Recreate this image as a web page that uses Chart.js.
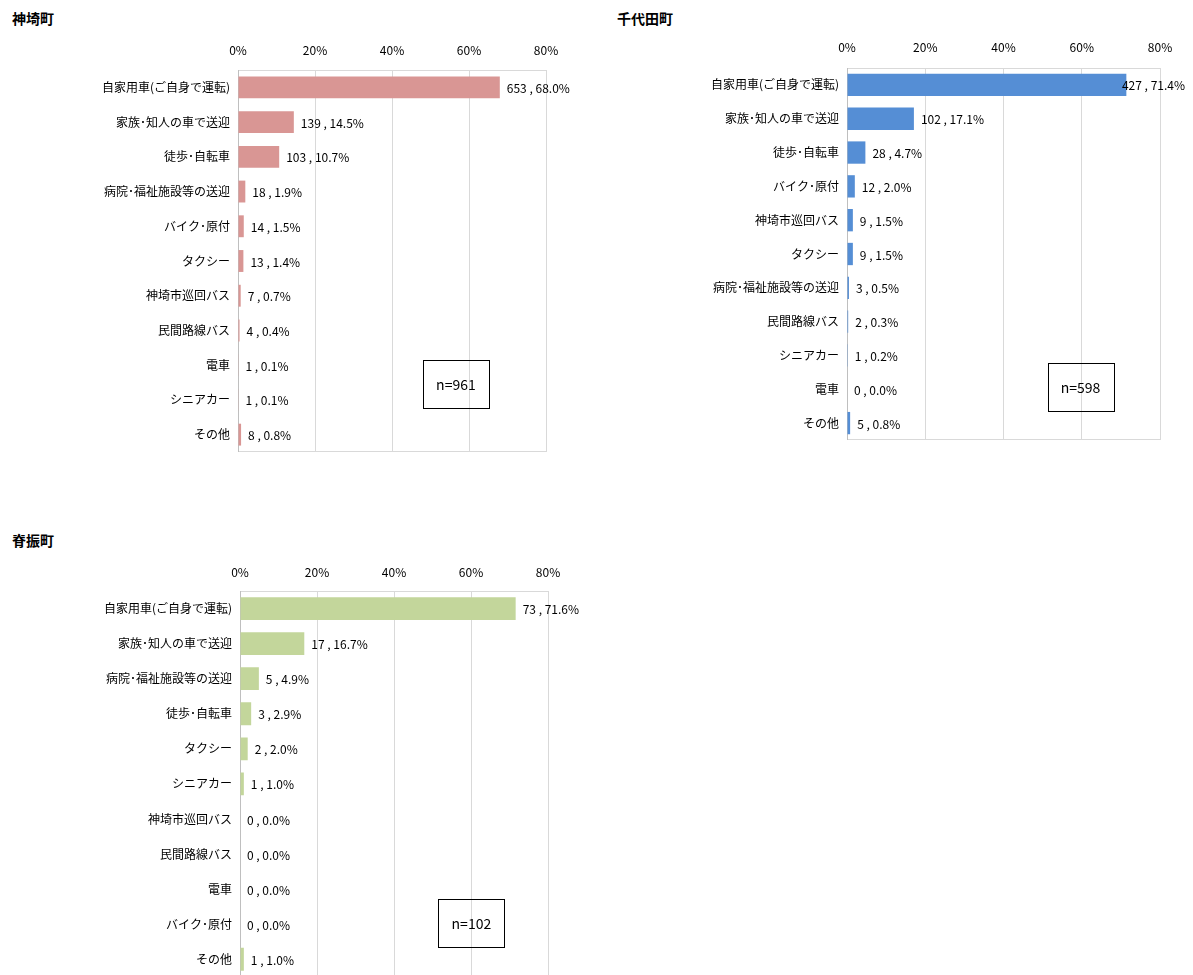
<!DOCTYPE html>
<html><head><meta charset="utf-8">
<script src="https://cdn.jsdelivr.net/npm/chart.js@4"></script>
<style>
html,body{margin:0;padding:0;background:#fff;overflow:hidden;width:1193px;height:975px;}
.title{position:absolute;font:bold 14px 'Noto Sans CJK JP',sans-serif;line-height:18px;color:#000;}
canvas{position:absolute;}
</style></head><body>
<div class="title" style="left:12px;top:9px">神埼町</div>
<div class="title" style="left:617px;top:9px">千代田町</div>
<div class="title" style="left:12px;top:531px">脊振町</div>
<canvas id="c1" width="600" height="440" style="left:0;top:30px;width:600px;height:440px"></canvas>
<canvas id="c2" width="593" height="430" style="left:600px;top:30px;width:593px;height:430px"></canvas>
<canvas id="c3" width="600" height="440" style="left:0;top:552px;width:600px;height:440px"></canvas>
<script>
const xTicks = [0, 20, 40, 60, 80];

const categories1 = ['自家用車(ご自身で運転)','家族･知人の車で送迎','徒歩･自転車','病院･福祉施設等の送迎','バイク･原付','タクシー','神埼市巡回バス','民間路線バス','電車','シニアカー','その他'];
const counts1 = [653,139,103,18,14,13,7,4,1,1,8];
const pct1 = [68.0,14.5,10.7,1.9,1.5,1.4,0.7,0.4,0.1,0.1,0.8];
const n1 = 961;

const categories2 = ['自家用車(ご自身で運転)','家族･知人の車で送迎','徒歩･自転車','バイク･原付','神埼市巡回バス','タクシー','病院･福祉施設等の送迎','民間路線バス','シニアカー','電車','その他'];
const counts2 = [427,102,28,12,9,9,3,2,1,0,5];
const pct2 = [71.4,17.1,4.7,2.0,1.5,1.5,0.5,0.3,0.2,0.0,0.8];
const n2 = 598;

const categories3 = ['自家用車(ご自身で運転)','家族･知人の車で送迎','病院･福祉施設等の送迎','徒歩･自転車','タクシー','シニアカー','神埼市巡回バス','民間路線バス','電車','バイク･原付','その他'];
const counts3 = [73,17,5,3,2,1,0,0,0,0,1];
const pct3 = [71.6,16.7,4.9,2.9,2.0,1.0,0.0,0.0,0.0,0.0,1.0];
const n3 = 102;

const FONT = "'Noto Sans CJK JP', sans-serif";

const framePlugin = {
  id: 'frame',
  beforeDatasetsDraw(chart) {
    const a = chart.chartArea, ctx = chart.ctx;
    ctx.save();
    ctx.lineWidth = 1;
    ctx.strokeStyle = '#D9D9D9';
    ctx.beginPath();
    ctx.moveTo(a.left, a.top + 0.5); ctx.lineTo(a.right, a.top + 0.5);
    ctx.moveTo(a.left, a.bottom - 0.5); ctx.lineTo(a.right, a.bottom - 0.5);
    ctx.stroke();
    ctx.strokeStyle = '#BFBFBF';
    ctx.beginPath();
    ctx.moveTo(a.left + 0.5, a.top); ctx.lineTo(a.left + 0.5, a.bottom);
    ctx.stroke();
    ctx.restore();
  }
};

const labelPlugin = {
  id: 'barLabels',
  afterDatasetsDraw(chart, args, opts) {
    const ctx = chart.ctx;
    const meta = chart.getDatasetMeta(0);
    const data = chart.data.datasets[0].data;
    ctx.save();
    ctx.font = '12px ' + FONT;
    ctx.fillStyle = '#000';
    ctx.textBaseline = 'middle';
    ctx.textAlign = 'left';
    meta.data.forEach((bar, i) => {
      const txt = opts.counts[i] + ' , ' + data[i].toFixed(1) + '%';
      const w = ctx.measureText(txt).width;
      let x = bar.x + 7;
      if (x + w > chart.width - 8) x = chart.width - 8 - w;
      ctx.fillText(txt, x, bar.y + 1);
    });
    const xs = chart.scales.x, ys = chart.scales.y;
    const cx = xs.getPixelForValue(opts.boxX);
    const cy = ys.getPixelForValue(opts.boxY);
    const bw = 66, bh = 48;
    ctx.strokeStyle = '#000';
    ctx.lineWidth = 1;
    ctx.strokeRect(Math.round(cx - bw / 2) + 0.5, Math.round(cy - bh / 2) + 0.5, bw, bh);
    ctx.font = '14px ' + FONT;
    ctx.textAlign = 'center';
    ctx.fillText('n=' + opts.n, cx, cy + 1);
    ctx.restore();
  }
};

function makeChart(id, cats, vals, counts, n, color, cfg) {
  return new Chart(document.getElementById(id), {
    type: 'bar',
    data: {
      labels: cats,
      datasets: [{ data: vals, backgroundColor: color, borderWidth: 0, barPercentage: cfg.barPct, categoryPercentage: 1 }]
    },
    options: {
      indexAxis: 'y',
      responsive: false,
      animation: false,
      layout: { padding: { left: 0, top: 0, right: cfg.padRight, bottom: cfg.padBottom } },
      plugins: {
        legend: { display: false },
        tooltip: { enabled: false },
        barLabels: { counts: counts, n: n, boxX: cfg.boxX, boxY: cfg.boxY }
      },
      scales: {
        x: {
          position: 'top',
          min: 0, max: 80,
          afterBuildTicks: s => { s.ticks = xTicks.map(v => ({ value: v })); },
          afterFit: s => { s.height = cfg.xHeight; },
          ticks: { callback: v => v + '%', color: '#000', font: { family: FONT, size: 12 }, padding: cfg.xPad, maxRotation: 0 },
          grid: { color: '#D9D9D9', drawTicks: false },
          border: { display: false }
        },
        y: {
          afterFit: s => { s.width = cfg.yWidth; },
          ticks: { color: '#000', font: { family: FONT, size: 12 }, padding: 8, autoSkip: false },
          grid: { display: false, drawTicks: false },
          border: { display: false }
        }
      }
    },
    plugins: [framePlugin, labelPlugin]
  });
}

makeChart('c1', categories1, pct1, counts1, n1, '#D99694',
  { barPct: 0.63, padRight: 54, padBottom: 18, xHeight: 40, xPad: 12, yWidth: 238, boxX: 56.6, boxY: 8.53 });
makeChart('c2', categories2, pct2, counts2, n2, '#558ED5',
  { barPct: 0.66, padRight: 33, padBottom: 20, xHeight: 38, xPad: 13, yWidth: 247, boxX: 59.7, boxY: 8.93 });
makeChart('c3', categories3, pct3, counts3, n3, '#C3D69B',
  { barPct: 0.65, padRight: 52, padBottom: 12, xHeight: 39, xPad: 11, yWidth: 240, boxX: 60.1, boxY: 8.97 });
</script>
</body></html>
